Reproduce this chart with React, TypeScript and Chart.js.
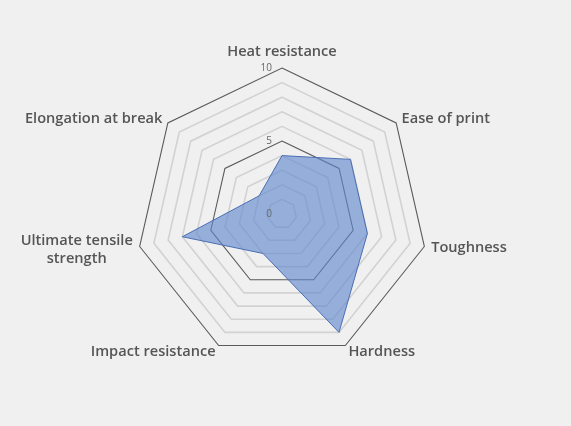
import React, { useEffect, useRef } from "react";
import { Chart, registerables } from "chart.js";

Chart.register(...registerables);

const categories: (string | string[])[] = [
  "Heat resistance",
  "Ease of print",
  "Toughness",
  "Hardness",
  "Impact resistance",
  ["Ultimate tensile", "strength"],
  "Elongation at break",
];
const seriesValues = [4, 6, 6, 9, 3, 7, 2];
const tickLabels = [0, 5, 10];

const labelFont = "600 14.6px 'Open Sans'";
const lineHeight = 18;

const labelsPlugin = {
  id: "labelsPlugin",
  afterDatasetsDraw(chart: any) {
    const scale = chart.scales.r;
    const ctx = chart.ctx;
    ctx.save();
    // tick labels
    ctx.font = "10px 'Open Sans'";
    ctx.fillStyle = "#666";
    ctx.textAlign = "right";
    ctx.textBaseline = "middle";
    tickLabels.forEach((v) => {
      const d = scale.getDistanceFromCenterForValue(v);
      ctx.fillText(String(v), scale.xCenter - 10, scale.yCenter - d);
    });
    // point labels
    ctx.font = labelFont;
    ctx.fillStyle = "#555";
    const outer = scale.getDistanceFromCenterForValue(scale.max);
    const n = categories.length;
    categories.forEach((lab, i) => {
      const lines = Array.isArray(lab) ? lab : [lab];
      const p = scale.getPointPosition(i, outer + 7);
      const v = scale.getPointPosition(i, outer);
      let cy = p.y;
      const maxW = Math.max(...lines.map((l) => ctx.measureText(l).width));
      let cx: number;
      if (i === 0) {
        cx = v.x;
        cy = v.y - 16;
      } else if (i < n / 2) {
        cx = p.x + maxW / 2;
      } else {
        cx = p.x - maxW / 2;
      }
      if (lines.length > 1) cy += 2;
      ctx.textAlign = "center";
      ctx.textBaseline = "middle";
      const top = cy - ((lines.length - 1) * lineHeight) / 2;
      lines.forEach((l, k) => ctx.fillText(l, cx, top + k * lineHeight));
    });
    ctx.restore();
  },
};

export default function App() {
  const ref = useRef<HTMLCanvasElement>(null);
  useEffect(() => {
    document.body.style.margin = "0";
    const chart = new Chart(ref.current!, {
      type: "radar",
      data: {
        labels: categories,
        datasets: [
          {
            data: seriesValues,
            backgroundColor: "rgba(95,135,205,0.62)",
            borderColor: "#4a6db3",
            borderWidth: 1,
            pointRadius: 0,
            fill: true,
          },
        ],
      },
      options: {
        animation: false,
        responsive: false,
        plugins: { legend: { display: false }, tooltip: { enabled: false } },
        layout: { padding: { top: 68, bottom: 66, left: 0, right: 7 } },
        scales: {
          r: {
            min: 0,
            max: 10,
            ticks: { stepSize: 1, display: false },
            angleLines: { display: false },
            pointLabels: { display: false },
            grid: {
              color: (c: any) => (c.tick && c.tick.value % 5 === 0 ? "#5a5a5a" : "#d2d2d2"),
              lineWidth: (c: any) => (c.tick && c.tick.value % 5 === 0 ? 1.1 : 1.6),
            },
          },
        },
      },
      plugins: [labelsPlugin],
    });
    return () => chart.destroy();
  }, []);
  return (
    <div style={{ position: "fixed", left: 0, top: 0, width: 571, height: 426, background: "#f0f0f0" }}>
      <canvas ref={ref} width={571} height={426} />
    </div>
  );
}
